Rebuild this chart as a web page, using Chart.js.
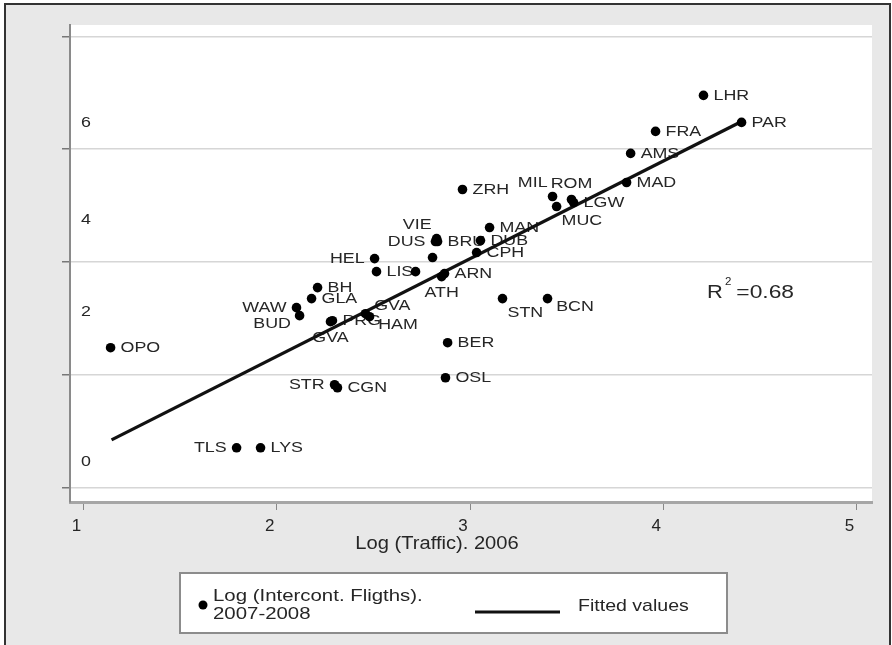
<!DOCTYPE html>
<html>
<head>
<meta charset="utf-8">
<script src="https://cdn.jsdelivr.net/npm/chart.js@4/dist/chart.umd.min.js"></script>
<style>
  html, body { margin: 0; padding: 0; background: #fff; }
  #c { display: block; }
</style>
</head>
<body>
<canvas id="c" width="892" height="645"></canvas>
<script>
// airports, log traffic 2006 (x) and log intercontinental flights 2007-2008 (y)
const airports = ['LHR','PAR','FRA','AMS','MAD','ZRH','MIL','ROM','LGW','MUC',
  'MAN','DUB','CPH','ARN','ATH','VIE','DUS','BRU','','HEL',
  'LIS','','BH','GLA','WAW','BUD','PRG','GVA','HAM','GVA',
  'OPO','BER','OSL','STR','CGN','TLS','LYS','STN','BCN'];
const trafficLog = [4.208, 4.405, 3.960, 3.831, 3.810, 2.961, 3.427, 3.525, 3.536, 3.448,
  3.101, 3.054, 3.034, 2.868, 2.853, 2.827, 2.821, 2.832, 2.806, 2.506,
  2.516, 2.718, 2.211, 2.180, 2.102, 2.118, 2.288, 2.459, 2.480, 2.278,
  1.140, 2.884, 2.873, 2.299, 2.314, 1.792, 1.916, 3.168, 3.401];
const flightsLog = [6.953, 6.475, 6.315, 5.925, 5.410, 5.286, 5.162, 5.109, 5.055, 4.984,
  4.612, 4.381, 4.169, 3.796, 3.743, 4.417, 4.364, 4.364, 4.080, 4.062,
  3.831, 3.831, 3.548, 3.353, 3.193, 3.051, 2.962, 3.086, 3.033, 2.945,
  2.483, 2.572, 1.951, 1.827, 1.774, 0.710, 0.710, 3.353, 3.353];
// label position around the marker, as clock hours
const labelClock = [3,3,3,3,3,3,11,12,3,5,
  3,3,3,3,6,11,9,3,3,9,
  3,3,3,3,9,8,3,2,4,6,
  3,3,3,9,3,9,3,5,4];

// fitted line end points
const fitX = [1.145, 4.405];
const fitY = [0.851, 6.492];
const r2 = 0.68;

const xTicks = [1, 2, 3, 4, 5];
const yGrid = [0, 2, 4, 6, 8];
const yTickText = ['6', '4', '2', '0'];
const yTickAt = [6.475, 4.754, 3.122, 0.461];

const xTitle = 'Log (Traffic). 2006';
const legendDots = ['Log (Intercont. Fligths).', '2007-2008'];
const legendLine = 'Fitted values';

const FONT = '"Liberation Sans", Arial, sans-serif';
const INK = '#262626';

function wideText(c, txt, x, y, align, size, sx) {
  c.save();
  c.font = size + 'px ' + FONT;
  c.fillStyle = INK;
  c.textBaseline = 'middle';
  c.translate(x, y);
  c.scale(sx || 1.15, 1);
  c.textAlign = align;
  c.fillText(txt, 0, 0);
  c.restore();
}

const frame = {
  id: 'frame',
  beforeDraw(chart) {
    const c = chart.ctx, a = chart.chartArea;
    c.save();
    c.fillStyle = '#fff';
    c.fillRect(0, 0, chart.width, chart.height);
    c.fillStyle = '#e8e8e8';
    c.fillRect(5, 4, 885, 645);
    c.strokeStyle = '#333';
    c.lineWidth = 2;
    c.strokeRect(5, 4, 885, 650);
    c.fillStyle = '#fff';
    c.fillRect(a.left, a.top, a.right - a.left, a.bottom - a.top);
    c.restore();
  }
};

const marks = {
  id: 'marks',
  beforeDatasetsDraw(chart) {
    const c = chart.ctx;
    const pts = chart.getDatasetMeta(0).data;
    pts.forEach((p, i) => {
      if (!airports[i]) return;
      const th = labelClock[i] * Math.PI / 6;
      const s = Math.sin(th), co = Math.cos(th);
      const align = s > 0.3 ? 'left' : (s < -0.3 ? 'right' : 'center');
      wideText(c, airports[i], p.x + s * 10, p.y - co * 16, align, 15.5);
    });
    const y = chart.scales.y;
    yTickText.forEach((t, i) => wideText(c, t, 86, y.getPixelForValue(yTickAt[i]), 'center', 15.5));
  },
  afterDraw(chart) {
    const c = chart.ctx;
    // R squared
    wideText(c, 'R', 707, 293, 'left', 19);
    wideText(c, '2', 725, 282, 'left', 10);
    wideText(c, ' =' + r2.toFixed(2), 730, 293, 'left', 19, 1.2);
    // axis title
    wideText(c, xTitle, 437, 544, 'center', 17.5);
    // legend
    c.save();
    c.fillStyle = '#fff';
    c.fillRect(180, 573, 547, 60);
    c.strokeStyle = '#8c8c8c';
    c.lineWidth = 2;
    c.strokeRect(180, 573, 547, 60);
    c.fillStyle = '#000';
    c.beginPath();
    c.arc(203, 605, 4.5, 0, Math.PI * 2);
    c.fill();
    c.strokeStyle = '#111';
    c.lineWidth = 3;
    c.beginPath();
    c.moveTo(475, 612);
    c.lineTo(560, 612);
    c.stroke();
    c.restore();
    wideText(c, legendDots[0], 213, 596, 'left', 17, 1.2);
    wideText(c, legendDots[1], 213, 614, 'left', 17, 1.2);
    wideText(c, legendLine, 578, 606, 'left', 17);
  }
};

const ctx = document.getElementById('c');
const chart = new Chart(ctx, {
  type: 'scatter',
  data: {
    datasets: [{
      label: legendDots.join(' '),
      data: trafficLog.map((x, i) => ({ x: x, y: flightsLog[i] })),
      pointRadius: 4.8,
      pointBackgroundColor: '#000',
      pointBorderWidth: 0
    }, {
      type: 'line',
      label: legendLine,
      data: fitX.map((x, i) => ({ x: x, y: fitY[i] })),
      borderColor: '#111',
      borderWidth: 3.3,
      pointRadius: 0,
      fill: false
    }]
  },
  options: {
    responsive: false,
    animation: false,
    devicePixelRatio: 1,
    layout: { padding: { left: 0, top: 25, right: 20, bottom: 0 } },
    plugins: {
      legend: { display: false },
      tooltip: { enabled: false }
    },
    scales: {
      x: {
        type: 'linear',
        min: 0.93,
        max: 5.08,
        afterBuildTicks: s => { s.ticks = xTicks.map(v => ({ value: v })); },
        afterFit: s => { s.height = 143; },
        ticks: {
          labelOffset: -7,
          padding: 6,
          color: INK,
          font: { family: FONT, size: 17 }
        },
        grid: { drawOnChartArea: false, tickLength: 8, tickColor: '#888', lineWidth: 1 },
        border: { color: '#a6a6a6', width: 3 }
      },
      y: {
        type: 'linear',
        min: -0.25,
        max: 8.2,
        afterBuildTicks: s => { s.ticks = yGrid.map(v => ({ value: v })); },
        afterFit: s => { s.width = 70; },
        ticks: { display: false },
        grid: { color: '#d6d6d6', lineWidth: 1.5, tickLength: 8, tickColor: '#777' },
        border: { color: '#8a8a8a', width: 2 }
      }
    }
  },
  plugins: [frame, marks]
});
</script>
</body>
</html>
